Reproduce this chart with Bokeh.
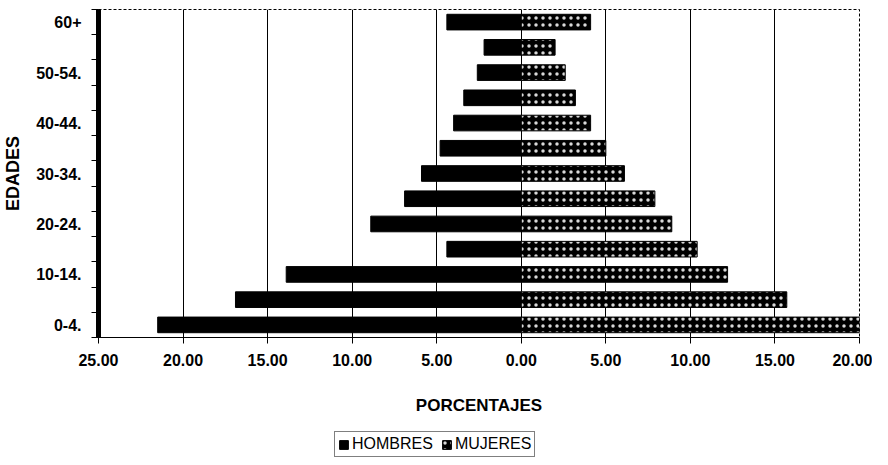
from bokeh.plotting import figure
from bokeh.layouts import column
from bokeh.models import FixedTicker, Legend, LegendItem, Range1d, ColumnDataSource
from bokeh.embed import file_html
from bokeh.resources import INLINE

# ---- data ----
categories = ["0-4.", "5-9.", "10-14.", "15-19.", "20-24.", "25-29.", "30-34.",
              "35-39.", "40-44.", "45-49.", "50-54.", "55-59.", "60+"]
hombres = [21.5, 16.9, 13.9, 4.4, 8.9, 6.9, 5.9, 4.8, 4.0, 3.4, 2.6, 2.2, 4.4]
mujeres = [20.0, 15.7, 12.2, 10.4, 8.9, 7.9, 6.1, 5.0, 4.1, 3.2, 2.6, 2.0, 4.1]
x_ticks = [-25, -20, -15, -10, -5, 0, 5, 10, 15, 20]
x_tick_labels = ["25.00", "20.00", "15.00", "10.00", "5.00", "0.00", "5.00", "10.00", "15.00", "20.00"]
grid_ticks = [-20, -15, -10, -5, 0, 5, 10, 15, 20]
legend_labels = ["HOMBRES", "MUJERES"]

FONT = "Liberation Sans"
MEN_STYLE = dict(fill_color="black", line_color="black")
WOMEN_STYLE = dict(fill_color="black", line_color="black", hatch_pattern="dot",
                   hatch_color="white", hatch_scale=7, hatch_weight=1.0, hatch_alpha=0.85)

idx = list(range(len(categories)))
src = ColumnDataSource(dict(
    y=idx,
    men_left=[-v for v in hombres],
    zero=[0] * len(idx),
    women_right=mujeres,
))

p = figure(width=872, height=424, output_backend="svg", toolbar_location=None,
           x_range=Range1d(-25, 20), y_range=Range1d(-0.5, len(idx) - 0.5),
           min_border_left=87, min_border_right=13, min_border_top=9,
           min_border_bottom=87)
p.background_fill_color = "white"
p.border_fill_color = "white"
p.outline_line_color = "black"
p.outline_line_dash = "3 2"

p.hbar(y="y", left="men_left", right="zero", height=0.62, source=src, **MEN_STYLE)
p.hbar(y="y", left="zero", right="women_right", height=0.62, source=src, **WOMEN_STYLE)

# grids
p.ygrid.visible = False
p.xgrid.ticker = FixedTicker(ticks=grid_ticks)
p.xgrid.grid_line_color = "black"
p.xgrid.grid_line_alpha = 1.0
p.xgrid.grid_line_width = 1

# x axis
xa = p.xaxis[0]
xa.ticker = FixedTicker(ticks=x_ticks)
xa.major_label_overrides = {t: l for t, l in zip(x_ticks, x_tick_labels)}
xa.axis_line_color = "black"
xa.axis_line_width = 1
xa.major_tick_out = 6
xa.major_tick_in = 0
xa.minor_tick_out = 0
xa.major_label_standoff = 10
xa.major_label_text_font = FONT
xa.major_label_text_font_style = "bold"
xa.major_label_text_font_size = "16px"
xa.major_label_text_color = "black"
xa.axis_label = "PORCENTAJES"
xa.axis_label_text_font = FONT
xa.axis_label_text_font_style = "bold"
xa.axis_label_text_font_size = "17px"
xa.axis_label_text_color = "black"
xa.axis_label_standoff = 27

# y axis
ya = p.yaxis[0]
ya.ticker = FixedTicker(ticks=idx[::2], minor_ticks=[i - 0.5 for i in idx] + [idx[-1] + 0.5])
ya.major_label_overrides = {i: categories[i] for i in idx[::2]}
ya.axis_line_color = "black"
ya.axis_line_width = 5
ya.major_tick_out = 0
ya.major_tick_in = 0
ya.minor_tick_out = 7
ya.minor_tick_in = 0
ya.minor_tick_line_color = "black"
ya.major_label_standoff = 10
ya.major_label_text_font = FONT
ya.major_label_text_font_style = "bold"
ya.major_label_text_font_size = "16px"
ya.major_label_text_color = "black"
ya.axis_label = "EDADES"
ya.axis_label_text_font = FONT
ya.axis_label_text_font_style = "bold"
ya.axis_label_text_font_size = "18px"
ya.axis_label_text_color = "black"
ya.axis_label_standoff = 10

# legend strip (separate small figure so the legend is not clipped)
lp = figure(width=872, height=33, output_backend="svg", toolbar_location=None,
            x_range=Range1d(0, 1), y_range=Range1d(0, 1),
            x_axis_location=None, y_axis_location=None,
            min_border=0, min_border_left=0, min_border_right=0,
            min_border_top=0, min_border_bottom=0)
lp.grid.visible = False
lp.outline_line_color = None
lp.background_fill_color = "white"
lp.border_fill_color = "white"
nan = float("nan")
swatch = ColumnDataSource(dict(y=[nan], left=[nan], right=[nan]))
g_m = lp.hbar(y="y", left="left", right="right", height=0.5, source=swatch, **MEN_STYLE)
g_w = lp.hbar(y="y", left="left", right="right", height=0.5, source=swatch, **WOMEN_STYLE)

legend = Legend(items=[LegendItem(label=legend_labels[0], renderers=[g_m], index=0),
                       LegendItem(label=legend_labels[1], renderers=[g_w], index=0)],
                orientation="horizontal", location=(236, 0),
                border_line_color="black", border_line_width=1,
                padding=3, spacing=8, margin=0,
                glyph_width=11, glyph_height=11, label_standoff=3,
                label_text_font=FONT, label_text_font_size="16px",
                label_text_color="black", background_fill_color="white")
lp.add_layout(legend, "center")

layout = column(p, lp, spacing=0)
open("out.html", "w").write(file_html(layout, INLINE))
